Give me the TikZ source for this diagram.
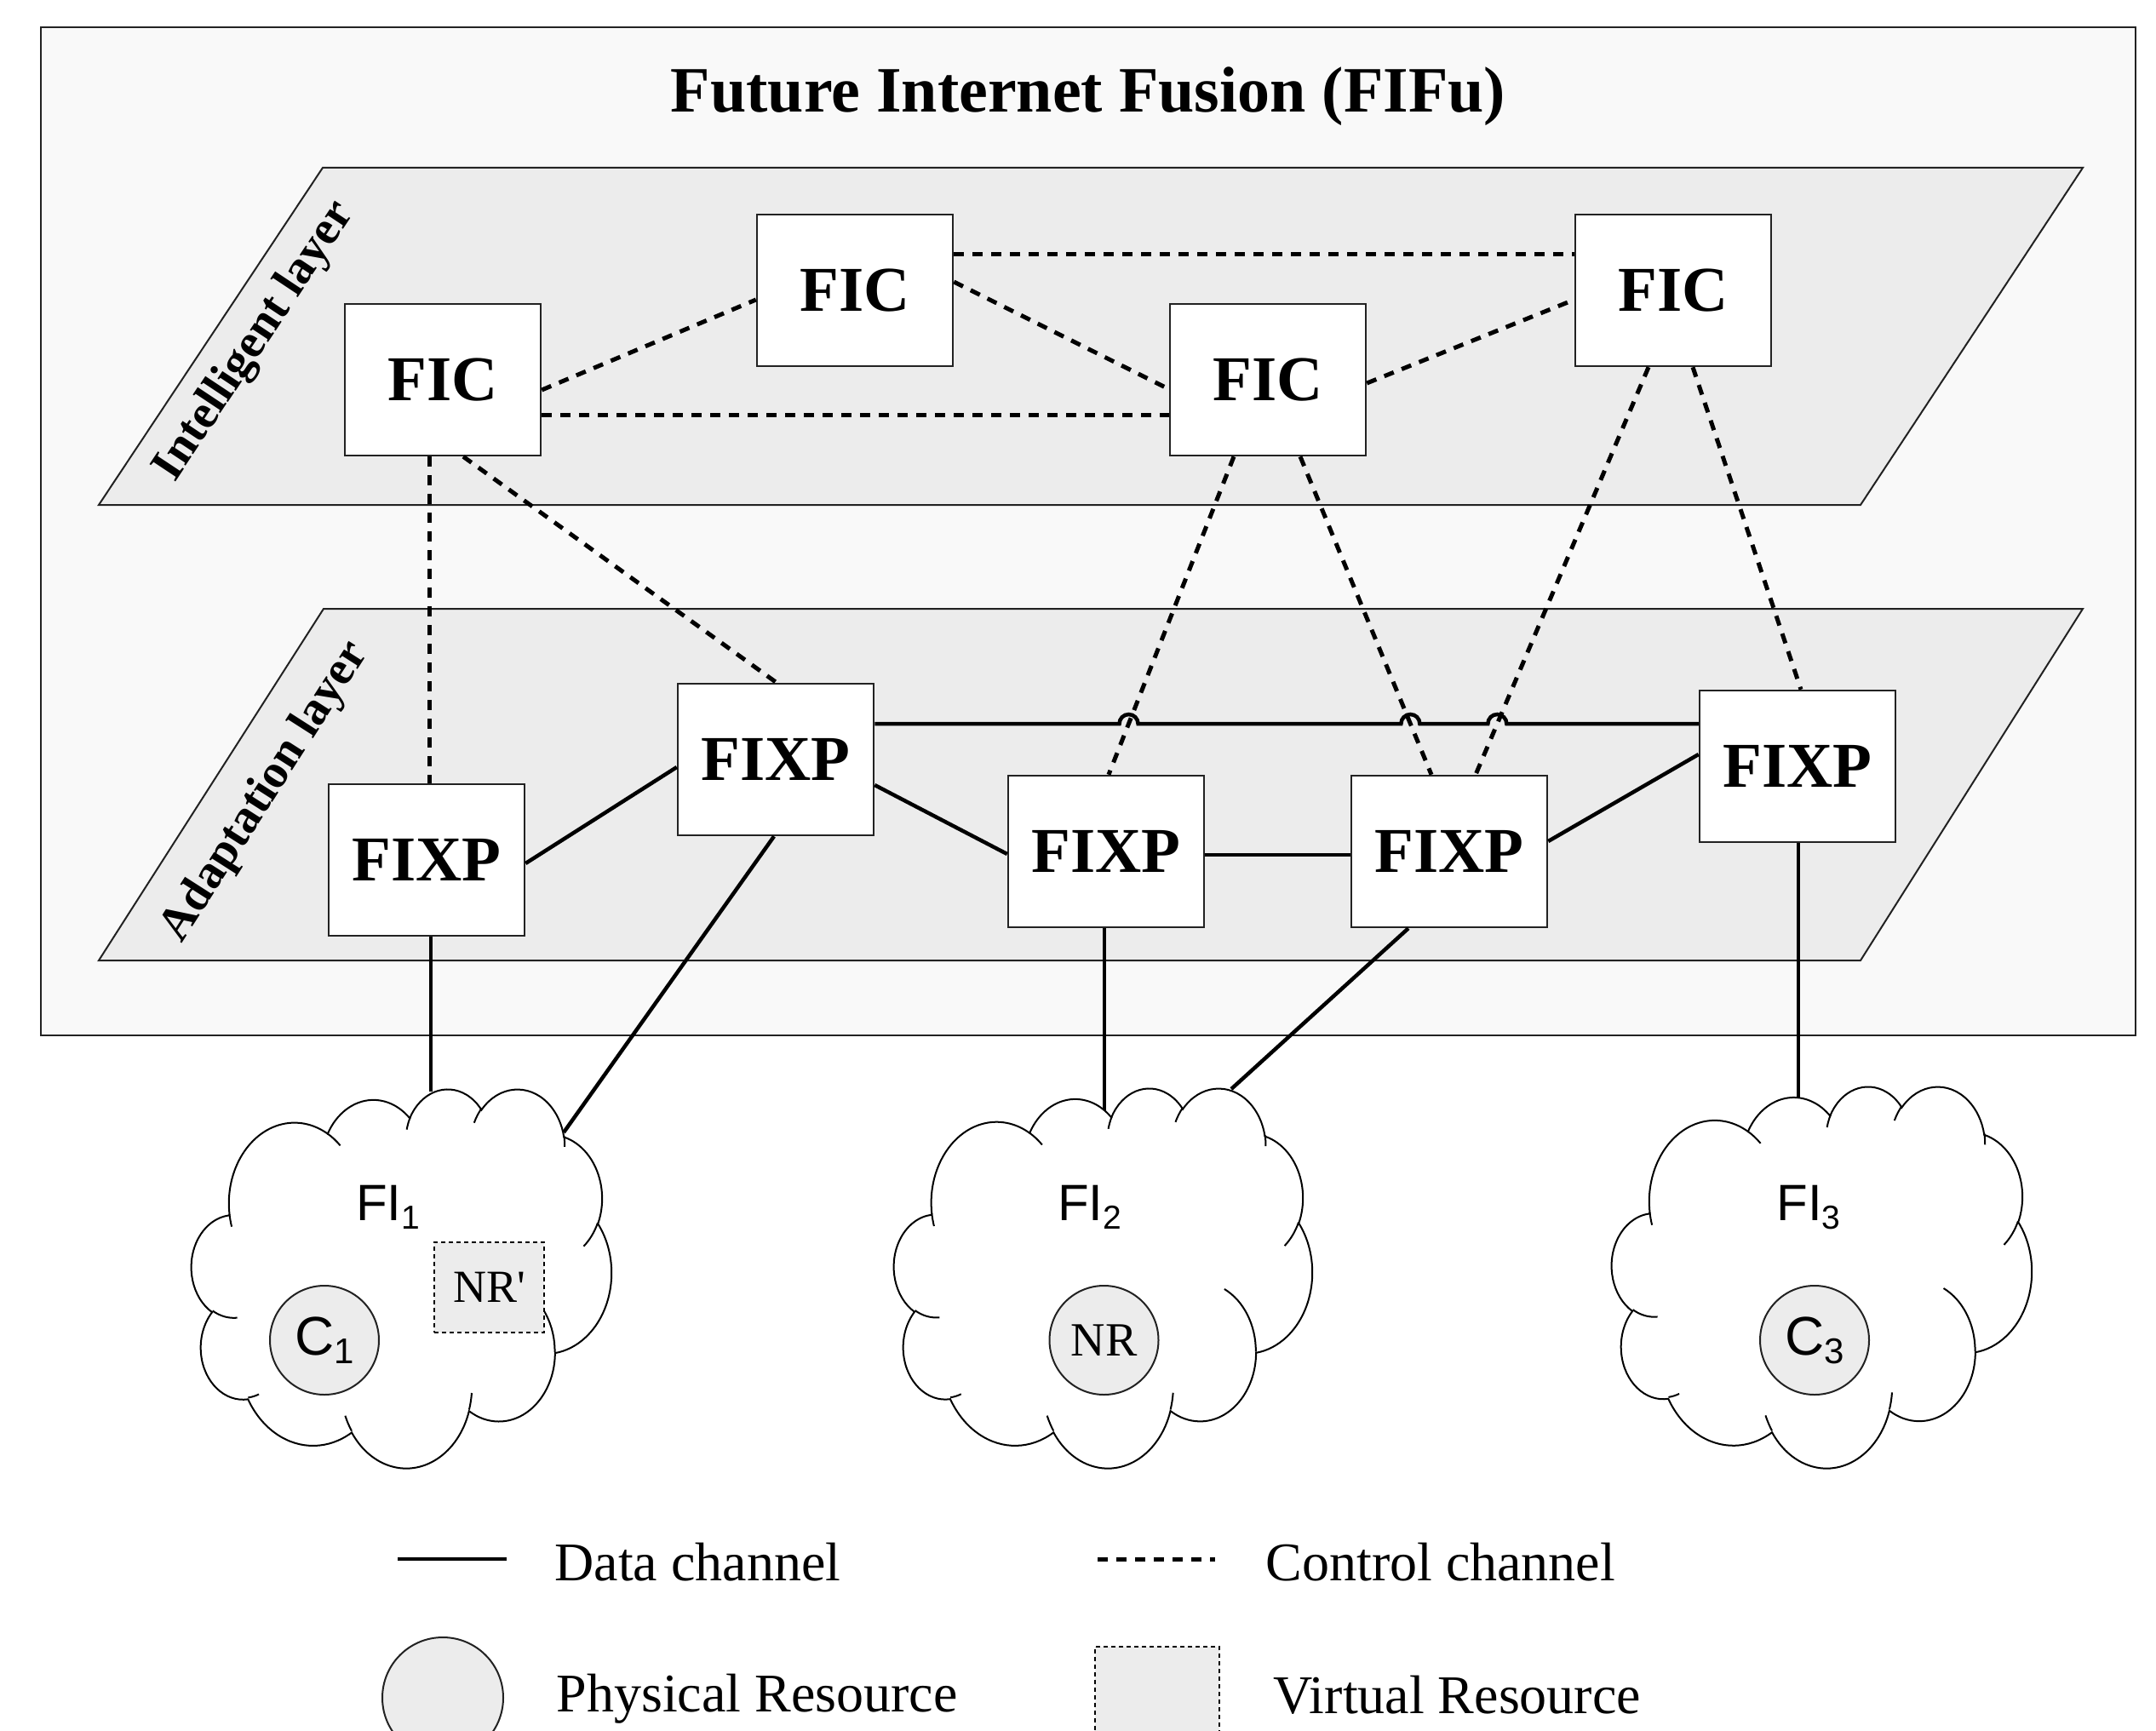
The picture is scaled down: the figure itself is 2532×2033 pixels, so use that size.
\documentclass[tikz,border=0pt]{standalone}
\usepackage{fontspec}
\setmainfont{Liberation Serif}
\newfontfamily\fisans{Liberation Sans}
\usetikzlibrary{calc}

\definecolor{layergray}{HTML}{ECECEC}
\definecolor{framebg}{HTML}{F9F9F9}
\definecolor{resgray}{HTML}{ECECEC}
\definecolor{edge}{HTML}{222222}

\newcommand\titlesize{\bfseries\fontsize{76pt}{80pt}\selectfont}
\newcommand\boxsize{\bfseries\fontsize{75pt}{78pt}\selectfont}
\newcommand\layersize{\bfseries\fontsize{56pt}{60pt}\selectfont}
\newcommand\legendsize{\fontsize{64pt}{68pt}\selectfont}
\newcommand\fisize{\fisans\fontsize{60pt}{64pt}\selectfont}
\newcommand\csize{\fisans\fontsize{64pt}{68pt}\selectfont}
\newcommand\nrsize{\fontsize{56pt}{60pt}\selectfont}
\newcommand\subdigit[2]{\raisebox{-10pt}{\fontsize{#1}{#1}\selectfont #2}}

% elliptic arc given by radii, visual start angle and visual sweep (y axis down)
\newcommand\ooangles[4]{%
  \pgfmathsetmacro\ooSt{atan2((#1)*sin(#3),(#2)*cos(#3))}%
  \pgfmathsetmacro\ooEr{atan2((#1)*sin((#3)+(#4)),(#2)*cos((#3)+(#4)))}%
  \pgfmathsetmacro\ooEn{\ooSt+mod(\ooEr-\ooSt+720,360)}%
  \global\let\ooS\ooSt \global\let\ooE\ooEn}
\newcommand\ooarc[4]{\pgfextra{\ooangles{#1}{#2}{#3}{#4}} arc[start angle=\ooS, end angle=\ooE, x radius=#1, y radius=#2]}

% cloud outline in a 432 x 432 box
\newcommand\cloudoutline{(39,143.7)
 \ooarc{67.53}{91.90}{-190.4875}{123.7805}
 \ooarc{53.33}{72.67}{-144.1024}{89.9452}
 \ooarc{43.65}{59.45}{-145.8079}{99.7230}
 \ooarc{48.57}{65.95}{-130.9861}{117.2417}
 \ooarc{53.33}{72.73}{-78.7089}{109.0269}
 \ooarc{67.75}{92.20}{-46.2673}{130.2690}
 \ooarc{57.85}{78.67}{0.6250}{114.0333}
 \ooarc{67.52}{92.15}{22.4516}{115.1726}
 \ooarc{77.20}{105.43}{66.2426}{75.7110}
 \ooarc{43.60}{59.18}{-274.9421}{146.7356}
 \ooarc{43.45}{59.45}{-246.8285}{152.5189}
 -- cycle}
% small inner strokes of the cloud
\newcommand\cloudhooks{%
 (46.93,261.77) \ooarc{43.45}{59.45}{86.7420}{26.4295}
 (69.28,348.99) \ooarc{43.60}{59.18}{73.6105}{11.4475}
 (164.78,390.90) \ooarc{67.52}{92.15}{137.6242}{14.0811}
 (288.27,347.51) \ooarc{67.52}{92.15}{6.4533}{15.9984}
 (341.29,229.54) \ooarc{57.85}{78.67}{-70.2924}{70.9174}
 (417.98,153.54) \ooarc{53.33}{72.73}{30.3180}{27.7515}
 (383.24,54.26) \ooarc{48.57}{65.95}{-13.7443}{14.8589}
 (290.78,39.52) \ooarc{48.57}{65.95}{-149.1815}{18.1954}
 (221.41,47.20) \ooarc{43.65}{59.45}{-163.4943}{17.6864}
 (140.00,51.92) \ooarc{67.53}{91.90}{-66.7070}{12.3194}
 (41.27,157.89) \ooarc{67.53}{91.90}{157.6544}{11.8582}}

\newcommand\ficloud[4]{%
  \begin{scope}[shift={(#1,#2)}, xscale=#3/432, yscale=#4/432]
    \filldraw[cloudline, fill=white] \cloudoutline;
    \draw[cloudline] \cloudhooks;
  \end{scope}}

\tikzset{
  fibox/.style={draw=edge, line width=2.5pt, fill=white, minimum width=230pt,
    minimum height=178pt, inner sep=0pt, font=\boxsize},
  layer/.style={fill=layergray, draw=edge, line width=2pt},
  outerframe/.style={fill=framebg, draw=edge, line width=2pt},
  ctrl/.style={line width=5pt, dash pattern=on 12pt off 10pt},
  datal/.style={line width=4.5pt},
  res/.style={circle, draw=edge, line width=2pt, fill=resgray, minimum size=128pt, inner sep=0pt},
  vres/.style={rectangle, draw=black, line width=2pt, dash pattern=on 5pt off 4pt,
    fill=resgray, inner sep=0pt},
  cloudline/.style={draw=black, line width=2pt},
}

\begin{document}
\begin{tikzpicture}[x=1pt, y=-1pt]
\useasboundingbox (0,0) rectangle (2532,2033);

% outer frame and the two layers
\draw[outerframe] (48,32) rectangle (2508,1216);
\filldraw[layer] (379,197) -- (2446,197) -- (2185,593) -- (116,593) -- cycle;
\filldraw[layer] (380,715) -- (2446,715) -- (2185,1128) -- (116,1128) -- cycle;

\node[anchor=base, font=\titlesize] (title) at (1278,132) {Future Internet Fusion (FIFu)};
\node[rotate=56.4, font=\layersize] (intl) at (300,401) {Intelligent layer};
\node[rotate=57.4, font=\layersize] (adl) at (312,930) {Adaptation layer};

% controllers
\node[fibox] (fic1) at (520,446) {FIC};
\node[fibox] (fic2) at (1004,341) {FIC};
\node[fibox] (fic3) at (1489,446) {FIC};
\node[fibox] (fic4) at (1965,341) {FIC};

% exchange points
\node[fibox] (fixp1) at (501,1010) {FIXP};
\node[fibox] (fixp2) at (911,892) {FIXP};
\node[fibox] (fixp3) at (1299,1000) {FIXP};
\node[fibox] (fixp4) at (1702,1000) {FIXP};
\node[fibox] (fixp5) at (2111,900) {FIXP};

% control channels in the intelligent layer
\draw[ctrl] ($(fic1.east)+(0,12)$) -- ($(fic2.west)+(0,11)$);
\draw[ctrl] ($(fic1.east)+(0,41)$) -- ($(fic3.west)+(0,41)$);
\draw[ctrl] ($(fic2.east)+(0,-10)$) -- ($(fic3.west)+(0,11)$);
\draw[ctrl] ($(fic2.east)+(0,-42)$) -- ($(fic4.west)+(0,-42)$);
\draw[ctrl] ($(fic3.east)+(0,4)$) -- ($(fic4.west)+(0,11)$);

% control channels between the layers
\coordinate (u1a) at ($(fic1.south)+(-16,0)$);
\coordinate (d1a) at ($(fixp1.north)+(3,0)$);
\coordinate (u1b) at ($(fic1.south)+(24,0)$);
\coordinate (d2a) at ($(fixp2.north)+(1,0)$);
\coordinate (u3a) at ($(fic3.south)+(-40,0)$);
\coordinate (d3a) at ($(fixp3.north)+(3,0)$);
\coordinate (u3b) at ($(fic3.south)+(38,0)$);
\coordinate (d4a) at ($(fixp4.north)+(-21,0)$);
\coordinate (u4a) at ($(fic4.south)+(-29,0)$);
\coordinate (d4b) at ($(fixp4.north)+(31,0)$);
\coordinate (u4b) at ($(fic4.south)+(23,0)$);
\coordinate (d5a) at ($(fixp5.north)+(4,0)$);
\draw[ctrl] (u1a) -- (d1a);
\draw[ctrl] (u1b) -- (d2a);
\draw[ctrl] (u3a) -- (d3a);
\draw[ctrl] (u3b) -- (d4a);
\draw[ctrl] (u4a) -- (d4b);
\draw[ctrl] (u4b) -- (d5a);

% data channels between exchange points
\draw[datal] ($(fixp1.east)+(0,4)$) -- ($(fixp2.west)+(0,9)$);
\draw[datal] ($(fixp2.east)+(0,30)$) -- ($(fixp3.west)+(0,3)$);
\draw[datal] ($(fixp3.east)+(0,4)$) -- ($(fixp4.west)+(0,4)$);
\draw[datal] ($(fixp4.east)+(0,-12)$) -- ($(fixp5.west)+(0,-14)$);

\coordinate (s2) at ($(fixp2.east)+(0,-42)$);
\coordinate (s5) at ($(fixp5.west)+(0,-50)$);
\coordinate (x1) at (intersection of u3a--d3a and s2--s5);
\coordinate (x2) at (intersection of u3b--d4a and s2--s5);
\coordinate (x3) at (intersection of u4a--d4b and s2--s5);
\draw[datal] (s2) -- ($(x1)+(-11,0)$) arc[start angle=180, end angle=360, radius=11]
  -- ($(x2)+(-11,0)$) arc[start angle=180, end angle=360, radius=11]
  -- ($(x3)+(-11,0)$) arc[start angle=180, end angle=360, radius=11] -- (s5);

% links down to the networks
\coordinate (k1a) at (506,1282);
\coordinate (k1b) at (662,1330);
\coordinate (k2a) at (1297,1305);
\coordinate (k2b) at (1446,1279);
\coordinate (k3a) at (2112,1292);
\draw[datal] ($(fixp1.south)+(5,0)$) -- (k1a);
\draw[datal] ($(fixp2.south)+(-2,0)$) -- (k1b);
\draw[datal] ($(fixp3.south)+(-2,0)$) -- (k2a);
\draw[datal] ($(fixp4.south)+(-48,0)$) -- (k2b);
\draw[datal] ($(fixp5.south)+(1,0)$) -- (k3a);

% the three networks
\ficloud{225}{1278}{493}{445}
\ficloud{1050}{1277}{491}{446}
\ficloud{1893}{1275}{493}{448}

\node[anchor=base, font=\fisize] (fi1) at (455.5,1433) {FI\subdigit{39pt}{1}};
\node[anchor=base, font=\fisize] (fi2) at (1279.5,1433) {FI\subdigit{39pt}{2}};
\node[anchor=base, font=\fisize] (fi3) at (2124,1433) {FI\subdigit{39pt}{3}};

\node[res, font=\csize] (c1) at (381,1574) {C\subdigit{42pt}{1}};
\node[vres, minimum width=129pt, minimum height=106pt, font=\fontsize{54pt}{58pt}\selectfont] (nrv) at (574.5,1512) {NR\textquotesingle};
\node[res, font=\nrsize] (nr) at (1296.5,1574) {NR};
\node[res, font=\csize] (c3) at (2131,1574) {C\subdigit{42pt}{3}};

% legend
\coordinate (lgd1) at (467,1831);
\coordinate (lgd2) at (595,1831);
\coordinate (lgc1) at (1289,1831);
\coordinate (lgc2) at (1427,1831);
\draw[datal] (lgd1) -- (lgd2);
\draw[ctrl] (lgc1) -- (lgc2);
\node[anchor=base west, font=\legendsize] (lgdt) at (648,1856) {Data channel};
\node[anchor=base west, font=\legendsize] (lgct) at (1483,1856) {Control channel};
\node[res, minimum size=142pt] (lgphys) at (520,1994) {};
\node[vres, minimum width=146pt, minimum height=146pt, anchor=north west] (lgvirt) at (1285,1933) {};
\node[anchor=base west, font=\legendsize] (lgpt) at (650,2010) {Physical Resource};
\node[anchor=base west, font=\legendsize] (lgvt) at (1492,2012) {Virtual Resource};
\end{tikzpicture}
\end{document}
